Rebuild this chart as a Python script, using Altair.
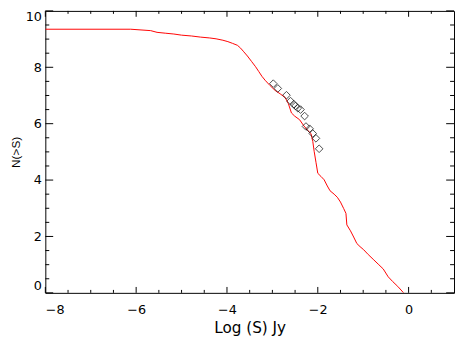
import altair as alt
import pandas as pd

# Red curve N(>S) vs log S
line_x = [-8.00, -6.12, -5.68, -5.54, -5.36, -5.17, -5.00, -4.78, -4.58, -4.38,
          -4.24, -4.09, -3.98, -3.88, -3.77, -3.70, -3.63, -3.55, -3.46, -3.37,
          -3.30, -3.23, -3.16, -3.05, -2.94, -2.83, -2.72, -2.65, -2.58, -2.51,
          -2.40, -2.31, -2.22, -2.15, -2.11, -2.08, -2.04, -2.00, -1.93, -1.86,
          -1.79, -1.73, -1.64, -1.57, -1.50, -1.43, -1.38, -1.36, -1.28, -1.21,
          -1.14, -1.07, -0.99, -0.89, -0.78, -0.67, -0.56, -0.45, -0.35, -0.24,
          -0.11]
line_y = [9.35, 9.35, 9.30, 9.24, 9.21, 9.18, 9.14, 9.11, 9.07, 9.04,
          9.01, 8.96, 8.91, 8.85, 8.78, 8.68, 8.55, 8.40, 8.21, 8.02,
          7.85, 7.68, 7.54, 7.35, 7.18, 7.06, 6.93, 6.72, 6.38, 6.27,
          6.14, 5.93, 5.76, 5.65, 5.37, 5.02, 4.63, 4.24, 4.13, 4.01,
          3.79, 3.62, 3.50, 3.39, 3.22, 2.99, 2.82, 2.41, 2.20, 1.98,
          1.75, 1.64, 1.53, 1.36, 1.19, 1.02, 0.85, 0.57, 0.40, 0.23,
          0.00]

# Diamond markers
pts_x = [-2.98, -2.88, -2.69, -2.60, -2.53, -2.49, -2.44, -2.38, -2.29, -2.26,
         -2.18, -2.11, -2.04, -1.97]
pts_y = [7.42, 7.25, 7.01, 6.80, 6.69, 6.63, 6.55, 6.50, 6.27, 5.90,
         5.82, 5.65, 5.48, 5.11]

# Tick positions
x_major = [-8, -6, -4, -2, 0]
x_minor = [-7.5, -7, -6.5, -5.5, -5, -4.5, -3.5, -3, -2.5, -1.5, -1, -0.5, 0.5]
y_major = [0, 2, 4, 6, 8, 10]
y_minor = [0.5, 1, 1.5, 2.5, 3, 3.5, 4.5, 5, 5.5, 6.5, 7, 7.5, 8.5, 9, 9.5]

W, H = 416, 287
xs = alt.Scale(domain=[-8, 1], nice=False, zero=False)
ys = alt.Scale(domain=[0, 10], nice=False, zero=False)

line_df = pd.DataFrame({"logS": line_x, "N": line_y})
pts_df = pd.DataFrame({"logS": pts_x, "N": pts_y})

x_axis = alt.Axis(
    title="Log (S) Jy", values=x_major, ticks=False, tickSize=0, domain=False,
    grid=False, labelFont="DejaVu Sans", labelFontSize=13, labelPadding=11,
    labelColor="black", titleFont="DejaVu Sans", titleFontSize=15.5,
    titleFontWeight="normal", titleColor="black", titleY=40.5,
    titleBaseline="alphabetic",
)
y_axis = alt.Axis(
    title="N(>S)", values=y_major, ticks=False, tickSize=0, domain=False,
    grid=False, labelFont="DejaVu Sans", labelFontSize=13, labelPadding=4,
    labelColor="black", labelFlush=True, titleFont="Liberation Sans",
    titleFontSize=12, titleFontWeight="normal", titleColor="black",
    titleX=-30, titleY=H / 2, titleAlign="center", titleBaseline="middle",
    titleAngle=270,
)

line = alt.Chart(line_df).mark_line(color="#ff0000", strokeWidth=1, clip=True).encode(
    x=alt.X("logS:Q", scale=xs, axis=x_axis),
    y=alt.Y("N:Q", scale=ys, axis=y_axis),
)

pts = alt.Chart(pts_df).mark_point(
    shape="diamond", filled=False, color="black", size=60, strokeWidth=1
).encode(
    x=alt.X("logS:Q", scale=xs, axis=x_axis),
    y=alt.Y("N:Q", scale=ys, axis=y_axis),
)


def xticks(vals, y0, y1):
    return alt.Chart(pd.DataFrame({"t": vals})).mark_rule(
        color="black", strokeWidth=1
    ).encode(x=alt.X("t:Q", scale=xs, axis=x_axis), y=alt.value(y0), y2=alt.value(y1))


def yticks(vals, x0, x1):
    return alt.Chart(pd.DataFrame({"t": vals})).mark_rule(
        color="black", strokeWidth=1
    ).encode(y=alt.Y("t:Q", scale=ys, axis=y_axis), x=alt.value(x0), x2=alt.value(x1))


layers = [
    line, pts,
    xticks(x_major, H, H - 6), xticks(x_minor, H, H - 3),
    xticks(x_major, 0, 6), xticks(x_minor, 0, 3),
    yticks(y_major, 0, 8), yticks(y_minor, 0, 4),
    yticks(y_major, W, W - 8), yticks(y_minor, W, W - 4),
]

chart = alt.layer(*layers).properties(
    width=W, height=H,
    autosize=alt.AutoSizeParams(type="none"),
    padding={"left": 38, "top": 0, "right": 1, "bottom": 43},
    background="white",
).configure_view(stroke="black", strokeWidth=1)

chart.save("out.html", embed_options={"renderer": "svg", "actions": False})
